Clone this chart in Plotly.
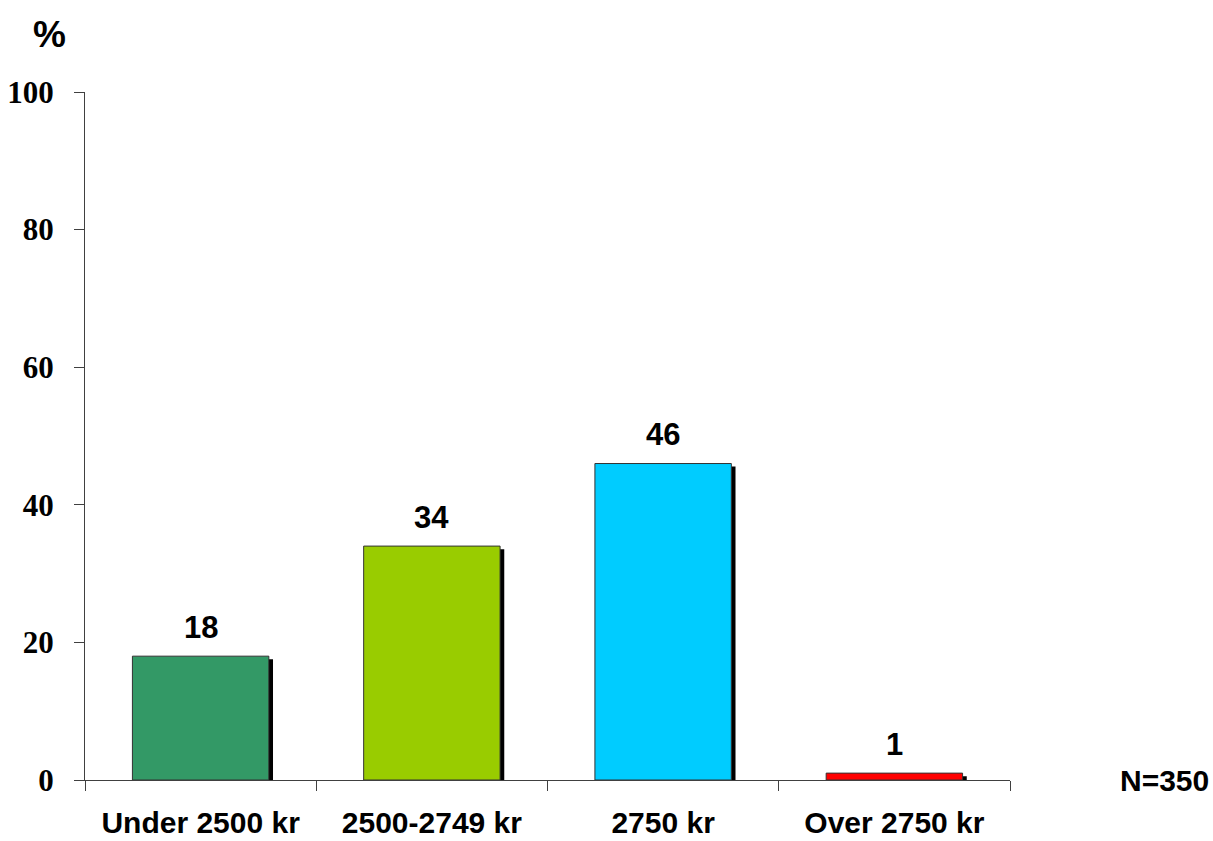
import plotly.graph_objects as go

categories = ["Under 2500 kr", "2500-2749 kr", "2750 kr", "Over 2750 kr"]
values = [18, 34, 46, 1]
colors = ["#339966", "#99CC00", "#00CCFF", "#FF0000"]
y_ticks = [0, 20, 40, 60, 80, 100]

bw = 0.59
fig = go.Figure()
# shadow
fig.add_trace(go.Bar(x=categories, y=values, base=[-0.45] * len(values),
                     width=bw, offset=-bw / 2 + 0.018,
                     marker=dict(color="#000000", line=dict(width=0)),
                     hoverinfo="skip", showlegend=False))
fig.add_trace(go.Bar(x=categories, y=values, width=bw, offset=-bw / 2,
                     marker=dict(color=colors, line=dict(color="#333333", width=1)),
                     showlegend=False))

for c, v in zip(categories, values):
    fig.add_annotation(x=c, y=v, text="<b>" + str(v) + "</b>", showarrow=False, yanchor="middle",
                       yshift=29, font=dict(family="Arial, Liberation Sans", size=31, color="black"))

fig.add_annotation(xref="paper", yref="paper", x=-0.038, y=1.083, text="<b>%</b>",
                   showarrow=False, xanchor="center", yanchor="middle",
                   font=dict(family="Arial, Liberation Sans", size=37, color="black"))
fig.add_annotation(xref="paper", yref="paper", x=1.1665, y=0.0, text="<b>N=350</b>",
                   showarrow=False, xanchor="center", yanchor="middle",
                   font=dict(family="Arial, Liberation Sans", size=30, color="black"))

fig.update_layout(
    barmode="overlay",
    width=1213, height=841,
    margin=dict(l=85, r=203, t=92, b=61, autoexpand=False),
    plot_bgcolor="white", paper_bgcolor="white",
    font=dict(family="Arial, Liberation Sans", color="black"),
    xaxis=dict(range=[-0.5, 3.5], showline=True, linecolor="#404040", linewidth=1,
               ticks="outside", tickson="boundaries", ticklen=10, tickcolor="#404040",
               tickfont=dict(family="Arial, Liberation Sans", size=30, color="black"),
               ticklabelstandoff=16, automargin=False,
               tickmode="array", tickvals=categories,
               ticktext=["<b>" + c + "</b>" for c in categories],
               showgrid=False, zeroline=False, fixedrange=True),
    yaxis=dict(range=[0, 100], showline=True, linecolor="#404040", linewidth=1,
               ticks="outside", ticklen=10, tickcolor="#404040",
               tickmode="array", tickvals=y_ticks,
               ticktext=["<b>" + str(t) + "</b>" for t in y_ticks],
               tickfont=dict(family="Liberation Serif, Times New Roman", size=31, color="black"),
               ticklabelstandoff=14, automargin=False,
               showgrid=False, zeroline=False, fixedrange=True),
)

fig.write_html("out.html", config={"displayModeBar": False},
               post_script="document.body.style.margin='0';document.body.style.overflow='hidden';")
